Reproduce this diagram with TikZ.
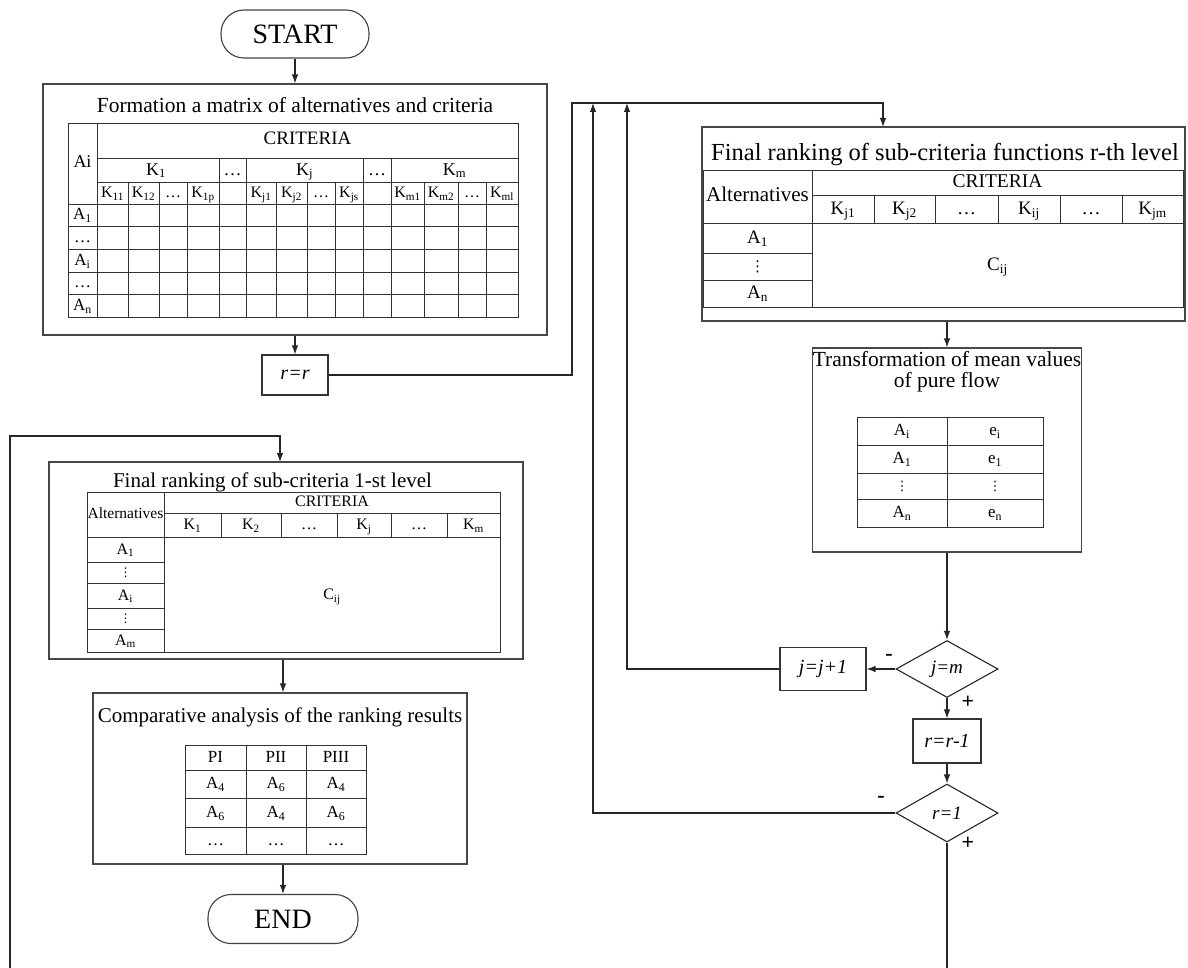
\documentclass[tikz,border=0pt]{standalone}
\usepackage{fontspec}
\setmainfont{Liberation Serif}
\newfontfamily\djfont{DejaVu Sans}
\usetikzlibrary{arrows.meta,shapes.geometric}
\begin{document}
\begin{tikzpicture}[x=1pt,y=-1pt,
  box/.style={draw=black!72,line width=1.1pt,inner sep=0pt,rectangle},
  gline/.style={draw=black!80,line width=0.9pt},
  conn/.style={draw=black!85,line width=1.1pt},
  arr/.style={conn,-{Latex[length=9pt,width=6.5pt]}},
  term/.style={draw=black!75,line width=1.1pt,rounded corners=23pt,inner sep=0pt,font=\fontsize{28}{30}\selectfont},
  dia/.style={draw=black!85,line width=1.1pt,diamond,aspect=1.8,inner sep=0pt,font=\fontsize{19}{21}\selectfont\itshape},
  pbox/.style={draw=black!80,line width=1.1pt,inner sep=0pt,font=\fontsize{20}{21}\selectfont\itshape},
  ttl/.style={inner sep=0pt,align=center,font=\fontsize{21.5}{21}\selectfont},
  tx/.style={inner sep=0pt,text height={0.7*#1pt},text depth={0.24*#1pt},font=\fontsize{#1}{#1}\selectfont},
  tx/.default=16,
  vd/.style={inner sep=0pt,font=\djfont\fontsize{#1}{#1}\selectfont},
  vd/.default=13,
  sgn/.style={inner sep=0pt,font=\fontsize{22}{22}\selectfont\bfseries}
]
\useasboundingbox (0,0) rectangle (1188,968);

% ---------- START ----------
\node[term,minimum width=148pt,minimum height=48pt] (start) at (295,34) {START};

% ---------- Box 1 ----------
\node[box,minimum width=504pt,minimum height=251pt] (b1) at (295,209.5) {};
\node[ttl] (t1) at (295,105) {Formation a matrix of alternatives and criteria};
\draw[gline] (68,123) rectangle (518,317);
\draw[gline] (97,158) -- (518,158) (97,182) -- (518,182);
\foreach \y in {204,226,249,272,294} \draw[gline] (68,\y) -- (518,\y);
\draw[gline] (97,123) -- (97,317);
\foreach \x in {219,246,363,391} \draw[gline] (\x,158) -- (\x,317);
\foreach \x in {128,159,187,276,307,335,424,458,486} \draw[gline] (\x,182) -- (\x,317);
\node[tx=18] (m1ai) at (82.5,163) {Ai};
\node[tx=19] (m1cr) at (307.5,140) {CRITERIA};
\foreach \x/\t [count=\i] in {156/K\textsubscript{1},232.5/…,304.5/K\textsubscript{j},377/…,454.5/K\textsubscript{m}}
  \node[tx=18] (m1k\i) at (\x,171) {\t};
\foreach \x/\t [count=\i] in {112.5/K\textsubscript{11},143.5/K\textsubscript{12},173/…,203/K\textsubscript{1p},261/K\textsubscript{j1},291.5/K\textsubscript{j2},321/…,349/K\textsubscript{js},407.5/K\textsubscript{m1},441/K\textsubscript{m2},472/…,502/K\textsubscript{ml}}
  \node[tx=16] (m1s\i) at (\x,194) {\t};
\foreach \y/\t [count=\i] in {216/A\textsubscript{1},238.5/…,261.5/A\textsubscript{i},284/…,306.5/A\textsubscript{n}}
  \node[tx=17] (m1r\i) at (82.5,\y) {\t};

% ---------- r=r ----------
\node[pbox,minimum width=66pt,minimum height=40pt] (rr) at (295,375) {r=r};

% ---------- Box 2 ----------
\node[box,minimum width=483pt,minimum height=194pt] (b2) at (943.5,224) {};
\node[ttl,font=\fontsize{24.5}{24}\selectfont] (t2) at (945,155) {Final ranking of sub-criteria functions r-th level};
\draw[gline] (703,170) rectangle (1183,307);
\draw[gline] (812,170) -- (812,307);
\draw[gline] (812,195) -- (1183,195) (703,223) -- (1183,223);
\draw[gline] (703,253) -- (812,253) (703,280) -- (812,280);
\foreach \x in {874,935,998,1060,1122} \draw[gline] (\x,195) -- (\x,223);
\node[tx=21] (m2al) at (757.5,197) {Alternatives};
\node[tx=19.5] (m2cr) at (997.5,183) {CRITERIA};
\foreach \x/\t [count=\i] in {843/K\textsubscript{j1},904.5/K\textsubscript{j2},966.5/…,1029/K\textsubscript{ij},1091/…,1152.5/K\textsubscript{jm}}
  \node[tx=19] (m2k\i) at (\x,210) {\t};
\node[tx=19] (m2r1) at (757.5,239) {A\textsubscript{1}};
\node[vd=15] (m2r2) at (757.5,266.5) {⋮};
\node[tx=19] (m2r3) at (757.5,294.5) {A\textsubscript{n}};
\node[tx=19] (m2c) at (997.5,266) {C\textsubscript{ij}};

% ---------- Box 3 ----------
\node[box,minimum width=269pt,minimum height=204pt] (b3) at (947,450) {};
\node[ttl] (t3) at (947,372) {Transformation of mean values\\of pure flow};
\draw[gline] (857,417) rectangle (1043,527);
\draw[gline] (947,417) -- (947,527);
\foreach \y in {445,473,499} \draw[gline] (857,\y) -- (1043,\y);
\foreach \y/\a/\e [count=\i] in {432/A\textsubscript{i}/e\textsubscript{i},460/A\textsubscript{1}/e\textsubscript{1},514/A\textsubscript{n}/e\textsubscript{n}}{
  \node[tx=17] (m3a\i) at (902,\y) {\a};
  \node[tx=17] (m3e\i) at (995,\y) {\e};}
\node[vd] (m3d1) at (902,486) {⋮};
\node[vd] (m3d2) at (995,486) {⋮};

% ---------- decisions ----------
\node[dia,minimum width=102pt,minimum height=57pt] (d1) at (947,669) {j=m};
\node[pbox,minimum width=86pt,minimum height=43pt] (jj) at (823,669) {j=j+1};
\node[pbox,minimum width=68pt,minimum height=44pt] (rr1) at (947,741) {r=r-1};
\node[dia,minimum width=102pt,minimum height=58pt] (d2) at (947,813) {r=1};
\node[sgn] (lm1) at (889,657) {-};
\node[sgn] (lp1) at (968,702) {+};
\node[sgn] (lm2) at (881,799) {-};
\node[sgn] (lp2) at (968,843) {+};

% ---------- Box 4 ----------
\node[box,minimum width=474pt,minimum height=197pt] (b4) at (286,560.5) {};
\node[ttl,font=\fontsize{21}{21}\selectfont] (t4) at (272.5,482) {Final ranking of sub-criteria 1-st level};
\draw[gline] (87,492) rectangle (500,652);
\draw[gline] (164,492) -- (164,652);
\draw[gline] (164,513) -- (500,513) (87,537) -- (500,537);
\foreach \y in {562,583,608,629} \draw[gline] (87,\y) -- (164,\y);
\foreach \x in {221,281,337,391,447} \draw[gline] (\x,513) -- (\x,537);
\node[tx=15.5] (m4al) at (125.5,515) {Alternatives};
\node[tx=16] (m4cr) at (332,503) {CRITERIA};
\foreach \x/\t [count=\i] in {192.5/K\textsubscript{1},251/K\textsubscript{2},309/…,364/K\textsubscript{j},419/…,473.5/K\textsubscript{m}}
  \node[tx=16] (m4k\i) at (\x,526) {\t};
\node[tx=16] (m4r1) at (125.5,550.5) {A\textsubscript{1}};
\node[vd=12] (m4r2) at (125.5,572.5) {⋮};
\node[tx=16] (m4r3) at (125.5,596.5) {A\textsubscript{i}};
\node[vd=12] (m4r4) at (125.5,618.5) {⋮};
\node[tx=16] (m4r5) at (125.5,641.5) {A\textsubscript{m}};
\node[tx=16] (m4c) at (332,596) {C\textsubscript{ij}};

% ---------- Box 5 ----------
\node[box,minimum width=374pt,minimum height=171pt] (b5) at (280,778.5) {};
\node[ttl,font=\fontsize{21}{21}\selectfont] (t5) at (280,717) {Comparative analysis of the ranking results};
\draw[gline] (185,745) rectangle (366,854);
\foreach \x in {246,306} \draw[gline] (\x,745) -- (\x,854);
\foreach \y in {770,798,827} \draw[gline] (185,\y) -- (366,\y);
\foreach \x/\a/\b/\c [count=\i] in {215.5/PI/A\textsubscript{4}/A\textsubscript{6},276/PII/A\textsubscript{6}/A\textsubscript{4},336/PIII/A\textsubscript{4}/A\textsubscript{6}}{
  \node[tx=17] (m5h\i) at (\x,758.5) {\a};
  \node[tx=17] (m5a\i) at (\x,785) {\b};
  \node[tx=17] (m5b\i) at (\x,813.5) {\c};
  \node[tx=17] (m5c\i) at (\x,841.5) {…};}

% ---------- END ----------
\node[term,minimum width=150pt,minimum height=49pt] (end) at (283,919) {END};

% ---------- connectors ----------
\coordinate (p1) at (572,103);
\coordinate (p2) at (593,103);
\coordinate (p3) at (627,103);
\coordinate (b2in) at (883,127);
\coordinate (b4in) at (280,462);
\coordinate (lb) at (10,968);
\coordinate (lt) at (10,436);
\coordinate (rb) at (947,968);

\draw[arr] (start.south) -- (b1.north);
\draw[arr] (b1.south) -- (rr.north);
\draw[arr] (rr.east) -| (p1) -| (b2in);
\draw[arr] (b2.south -| b3.north) -- (b3.north);
\draw[arr] (b3.south) -- (d1.north);
\draw[arr] (d1.west) -- (jj.east);
\draw[arr] (jj.west) -| (p3);
\draw[arr] (d1.south) -- (rr1.north);
\draw[arr] (rr1.south) -- (d2.north);
\draw[arr] (d2.west) -| (p2);
\draw[conn] (d2.south) -- (rb);
\draw[arr] (lb) -- (lt) -| (b4in);
\draw[arr] (b4.south -| end.north) -- (b5.north -| end.north);
\draw[arr] (b5.south -| end.north) -- (end.north);
\end{tikzpicture}
\end{document}
